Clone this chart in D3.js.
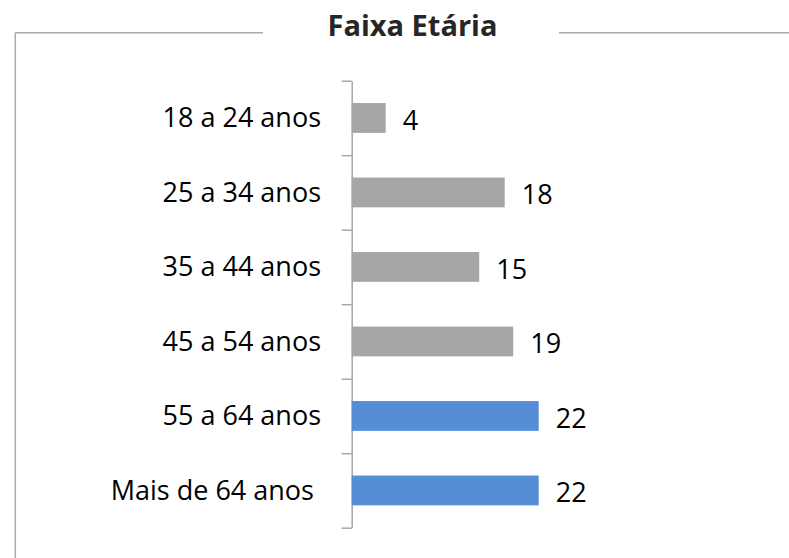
<html>
<head>
<meta charset="utf-8">
<title>Faixa Etária</title>
<script src="https://d3js.org/d3.v7.min.js"></script>
<style>
  body { margin: 0; background: #fff; }
  text { font-family: "Open Sans", "Noto Sans", sans-serif; }
</style>
</head>
<body>
<div id="my_dataviz"></div>
<script>
// data
var categories = ["18 a 24 anos", "25 a 34 anos", "35 a 44 anos", "45 a 54 anos", "55 a 64 anos", "Mais de 64 anos "];
var values = [4, 18, 15, 19, 22, 22];
var barColors = ["#a6a6a6", "#a6a6a6", "#a6a6a6", "#a6a6a6", "#558ed5", "#558ed5"];
var title = "Faixa Etária";

var width = 789, height = 558;
var axisX = 351.7, axisTop = 80.7, axisBottom = 527.7;

var svg = d3.select("#my_dataviz").append("svg")
    .attr("width", width)
    .attr("height", height)
    .style("display", "block");

// chart frame, top line broken by the title
var frame = "#ababab";
svg.append("line").attr("x1", 15.3).attr("x2", 15.3).attr("y1", 32.7).attr("y2", height + 5)
    .attr("stroke", frame).attr("stroke-width", 1.5);
svg.append("line").attr("x1", 15.3).attr("x2", 263).attr("y1", 32.7).attr("y2", 32.7)
    .attr("stroke", frame).attr("stroke-width", 1.5);
svg.append("line").attr("x1", 559).attr("x2", width + 5).attr("y1", 32.7).attr("y2", 32.7)
    .attr("stroke", frame).attr("stroke-width", 1.5);

svg.append("text")
    .attr("x", 412.5)
    .attr("y", 36)
    .attr("text-anchor", "middle")
    .attr("font-weight", 700)
    .style("font-size", "29px")
    .attr("fill", "#262626")
    .text(title);

var xs = d3.scaleLinear().domain([0, 25]).range([axisX, axisX + 25 * 8.5]);
var ys = d3.scaleBand().domain(categories).range([axisTop, axisBottom])
    .paddingInner(0.6).paddingOuter(0.3);

// category axis, ticks between categories
var yt = d3.scaleLinear().domain([0, categories.length]).range([axisTop, axisBottom]);
var yAxis = svg.append("g")
    .attr("transform", "translate(" + axisX + ",0)")
    .call(d3.axisLeft(yt).tickValues(d3.range(categories.length + 1)).tickSize(10).tickSizeOuter(0).tickFormat(""));
yAxis.selectAll("path, line").attr("stroke", "#a6a6a6").attr("stroke-width", 1.5);

svg.selectAll("rect.bar").data(values).enter().append("rect")
    .attr("class", "bar")
    .attr("x", xs(0))
    .attr("y", function(d, i) { return ys(categories[i]); })
    .attr("width", function(d) { return xs(d) - xs(0); })
    .attr("height", ys.bandwidth())
    .attr("fill", function(d, i) { return barColors[i]; });

svg.selectAll("text.cat").data(categories).enter().append("text")
    .attr("class", "cat")
    .attr("x", 321)
    .attr("y", function(d) { return ys(d) + ys.bandwidth() / 2 + 9.5; })
    .attr("text-anchor", "end")
    .style("font-size", "27px")
    .style("white-space", "pre")
    .attr("fill", "#000")
    .text(function(d) { return d; });

svg.selectAll("text.val").data(values).enter().append("text")
    .attr("class", "val")
    .attr("x", function(d) { return xs(d) + 17; })
    .attr("y", function(d, i) { return ys(categories[i]) + ys.bandwidth() / 2 + 11.7; })
    .style("font-size", "27px")
    .attr("fill", "#000")
    .text(function(d) { return d; });
</script>
</body>
</html>
